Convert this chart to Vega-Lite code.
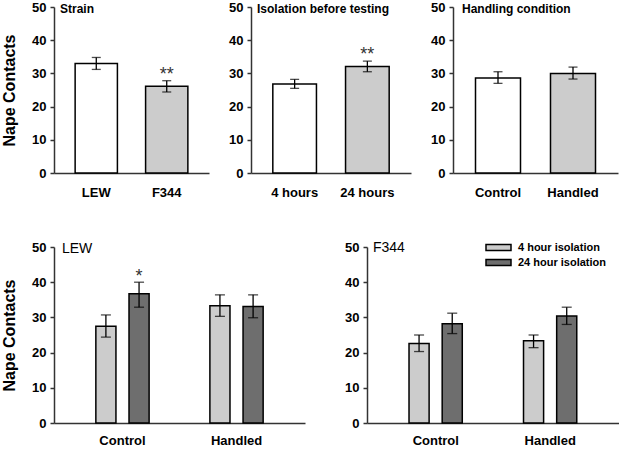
{
  "$schema": "https://vega.github.io/schema/vega-lite/v6.json",
  "autosize": {"type": "pad"},
  "padding": {"left": 1, "top": 1, "right": 0, "bottom": 0},
  "background": "white",
  "config": {
    "font": "Liberation Sans",
    "view": {"stroke": null},
    "axis": {"grid": false, "domainColor": "#333333", "domainWidth": 1.5, "tickColor": "#333333", "tickWidth": 1.5, "labelColor": "black", "labelFontWeight": "bold", "labelFontSize": 13, "titleColor": "black", "labelOverlap": false},
    "axisY": {"tickSize": 4, "labelPadding": 4, "titleFontSize": 16, "titleFontWeight": "bold", "titlePadding": 14, "tickCount": 10},
    "axisX": {"ticks": false, "labelAngle": 0, "labelPadding": 11},
    "title": {"anchor": "start", "frame": "group", "baseline": "middle", "offset": -15, "fontSize": 12, "fontWeight": "bold", "color": "black"}
  },
  "datasets": {
    "strain": [
      {"group": "LEW", "mean": 33.0, "lo": 31.2, "hi": 34.8},
      {"group": "F344", "mean": 26.1, "lo": 24.4, "hi": 27.8}
    ],
    "iso": [
      {"group": "4 hours", "mean": 26.8, "lo": 25.5, "hi": 28.2},
      {"group": "24 hours", "mean": 32.1, "lo": 30.5, "hi": 33.7}
    ],
    "hand": [
      {"group": "Control", "mean": 28.6, "lo": 27.0, "hi": 30.5},
      {"group": "Handled", "mean": 30.0, "lo": 28.3, "hi": 31.9}
    ],
    "lew": [
      {"group": "Control", "iso": "4 hour isolation", "mean": 27.5, "lo": 24.4, "hi": 30.7},
      {"group": "Control", "iso": "24 hour isolation", "mean": 36.7, "lo": 32.9, "hi": 40.0},
      {"group": "Handled", "iso": "4 hour isolation", "mean": 33.3, "lo": 30.3, "hi": 36.4},
      {"group": "Handled", "iso": "24 hour isolation", "mean": 33.1, "lo": 29.9, "hi": 36.4}
    ],
    "f344": [
      {"group": "Control", "iso": "4 hour isolation", "mean": 22.6, "lo": 20.3, "hi": 25.0},
      {"group": "Control", "iso": "24 hour isolation", "mean": 28.2, "lo": 25.4, "hi": 31.2},
      {"group": "Handled", "iso": "4 hour isolation", "mean": 23.4, "lo": 21.4, "hi": 25.0},
      {"group": "Handled", "iso": "24 hour isolation", "mean": 30.4, "lo": 28.0, "hi": 32.9}
    ],
    "starsStrain": [{"group": "F344", "y": 30.7, "star": "**"}],
    "starsIso": [{"group": "24 hours", "y": 36.8, "star": "**"}],
    "starsLew": [{"group": "Control", "iso": "24 hour isolation", "y": 42.7, "star": "*"}]
  },
  "spacing": 41,
  "resolve": {"scale": {"fill": "independent"}, "legend": {"fill": "independent"}},
  "vconcat": [
    {
      "bounds": "flush",
      "spacing": 42,
      "resolve": {"scale": {"fill": "independent"}, "legend": {"fill": "independent"}},
      "hconcat": [
        {
          "width": 155, "height": 166,
          "title": {"text": "Strain", "dx": 6},
          "data": {"name": "strain"},
          "encoding": {
            "x": {"field": "group", "type": "nominal", "sort": null, "scale": {"paddingInner": 0.4, "paddingOuter": 0.3}, "axis": {"title": null, "labelPadding": 13}}
          },
          "layer": [
            {"mark": {"type": "bar", "stroke": "black", "strokeWidth": 1.5},
             "encoding": {
               "y": {"field": "mean", "type": "quantitative", "scale": {"domain": [0, 50], "nice": false}, "axis": {"title": "Nape Contacts", "values": [0, 10, 20, 30, 40, 50], "tickCount": 10}},
               "fill": {"field": "group", "type": "nominal", "sort": null, "scale": {"range": ["#ffffff", "#cccccc"]}, "legend": null}
             }},
            {"mark": {"type": "rule", "color": "black", "strokeWidth": 1.3},
             "encoding": {"y": {"field": "lo", "type": "quantitative", "axis": {"title": "Nape Contacts", "values": [0, 10, 20, 30, 40, 50], "tickCount": 10}}, "y2": {"field": "hi"}}},
            {"mark": {"type": "tick", "color": "black", "thickness": 1.3, "size": 9},
             "encoding": {"y": {"field": "lo", "type": "quantitative", "axis": {"title": "Nape Contacts", "values": [0, 10, 20, 30, 40, 50], "tickCount": 10}}}},
            {"mark": {"type": "tick", "color": "black", "thickness": 1.3, "size": 9},
             "encoding": {"y": {"field": "hi", "type": "quantitative", "axis": {"title": "Nape Contacts", "values": [0, 10, 20, 30, 40, 50], "tickCount": 10}}}},
            {"data": {"name": "starsStrain"},
             "mark": {"type": "text", "fontSize": 18, "color": "#333333", "baseline": "middle", "dy": 4},
             "encoding": {"y": {"field": "y", "type": "quantitative", "axis": {"title": "Nape Contacts", "values": [0, 10, 20, 30, 40, 50], "tickCount": 10}}, "text": {"field": "star"}}}
          ]
        },
        {
          "width": 160, "height": 166,
          "title": {"text": "Isolation before testing", "dx": 6},
          "data": {"name": "iso"},
          "encoding": {
            "x": {"field": "group", "type": "nominal", "sort": null, "scale": {"paddingInner": 0.4, "paddingOuter": 0.3}, "axis": {"title": null, "labelPadding": 13}}
          },
          "layer": [
            {"mark": {"type": "bar", "stroke": "black", "strokeWidth": 1.5},
             "encoding": {
               "y": {"field": "mean", "type": "quantitative", "scale": {"domain": [0, 50], "nice": false}, "axis": {"title": null, "values": [0, 10, 20, 30, 40, 50], "tickCount": 10}},
               "fill": {"field": "group", "type": "nominal", "sort": null, "scale": {"range": ["#ffffff", "#cccccc"]}, "legend": null}
             }},
            {"mark": {"type": "rule", "color": "black", "strokeWidth": 1.3},
             "encoding": {"y": {"field": "lo", "type": "quantitative", "axis": {"title": null, "values": [0, 10, 20, 30, 40, 50], "tickCount": 10}}, "y2": {"field": "hi"}}},
            {"mark": {"type": "tick", "color": "black", "thickness": 1.3, "size": 9},
             "encoding": {"y": {"field": "lo", "type": "quantitative", "axis": {"title": null, "values": [0, 10, 20, 30, 40, 50], "tickCount": 10}}}},
            {"mark": {"type": "tick", "color": "black", "thickness": 1.3, "size": 9},
             "encoding": {"y": {"field": "hi", "type": "quantitative", "axis": {"title": null, "values": [0, 10, 20, 30, 40, 50], "tickCount": 10}}}},
            {"data": {"name": "starsIso"},
             "mark": {"type": "text", "fontSize": 18, "color": "#333333", "baseline": "middle", "dy": 4},
             "encoding": {"y": {"field": "y", "type": "quantitative", "axis": {"title": null, "values": [0, 10, 20, 30, 40, 50], "tickCount": 10}}, "text": {"field": "star"}}}
          ]
        },
        {
          "width": 165, "height": 166,
          "title": {"text": "Handling condition", "dx": 9},
          "data": {"name": "hand"},
          "encoding": {
            "x": {"field": "group", "type": "nominal", "sort": null, "scale": {"paddingInner": 0.4, "paddingOuter": 0.3}, "axis": {"title": null, "labelPadding": 13}}
          },
          "layer": [
            {"mark": {"type": "bar", "stroke": "black", "strokeWidth": 1.5},
             "encoding": {
               "y": {"field": "mean", "type": "quantitative", "scale": {"domain": [0, 50], "nice": false}, "axis": {"title": null, "values": [0, 10, 20, 30, 40, 50], "tickCount": 10}},
               "fill": {"field": "group", "type": "nominal", "sort": null, "scale": {"range": ["#ffffff", "#cccccc"]}, "legend": null}
             }},
            {"mark": {"type": "rule", "color": "black", "strokeWidth": 1.3},
             "encoding": {"y": {"field": "lo", "type": "quantitative", "axis": {"title": null, "values": [0, 10, 20, 30, 40, 50], "tickCount": 10}}, "y2": {"field": "hi"}}},
            {"mark": {"type": "tick", "color": "black", "thickness": 1.3, "size": 9},
             "encoding": {"y": {"field": "lo", "type": "quantitative", "axis": {"title": null, "values": [0, 10, 20, 30, 40, 50], "tickCount": 10}}}},
            {"mark": {"type": "tick", "color": "black", "thickness": 1.3, "size": 9},
             "encoding": {"y": {"field": "hi", "type": "quantitative", "axis": {"title": null, "values": [0, 10, 20, 30, 40, 50], "tickCount": 10}}}}
          ]
        }
      ]
    },
    {
      "bounds": "flush",
      "spacing": 62,
      "resolve": {"scale": {"fill": "independent"}, "legend": {"fill": "independent"}},
      "hconcat": [
        {
          "width": 251, "height": 176,
          "title": {"text": "LEW", "dx": 8, "fontWeight": "normal", "fontSize": 14},
          "data": {"name": "lew"},
          "encoding": {
            "x": {"field": "group", "type": "nominal", "sort": null, "scale": {"paddingInner": 0.533, "paddingOuter": 0.367}, "axis": {"title": null}},
            "xOffset": {"field": "iso", "type": "nominal", "sort": null, "scale": {"paddingInner": 0.394, "paddingOuter": 0}}
          },
          "layer": [
            {"mark": {"type": "bar", "stroke": "black", "strokeWidth": 1.5},
             "encoding": {
               "y": {"field": "mean", "type": "quantitative", "scale": {"domain": [0, 50], "nice": false}, "axis": {"title": "Nape Contacts", "values": [0, 10, 20, 30, 40, 50], "tickCount": 10}},
               "fill": {"field": "iso", "type": "nominal", "sort": null, "scale": {"range": ["#cccccc", "#6e6e6e"]}, "legend": null}
             }},
            {"mark": {"type": "rule", "color": "black", "strokeWidth": 1.3},
             "encoding": {"y": {"field": "lo", "type": "quantitative", "axis": {"title": "Nape Contacts", "values": [0, 10, 20, 30, 40, 50], "tickCount": 10}}, "y2": {"field": "hi"}}},
            {"mark": {"type": "tick", "color": "black", "thickness": 1.3, "size": 10},
             "encoding": {"y": {"field": "lo", "type": "quantitative", "axis": {"title": "Nape Contacts", "values": [0, 10, 20, 30, 40, 50], "tickCount": 10}}}},
            {"mark": {"type": "tick", "color": "black", "thickness": 1.3, "size": 10},
             "encoding": {"y": {"field": "hi", "type": "quantitative", "axis": {"title": "Nape Contacts", "values": [0, 10, 20, 30, 40, 50], "tickCount": 10}}}},
            {"data": {"name": "starsLew"},
             "mark": {"type": "text", "fontSize": 18, "color": "#333333", "baseline": "middle", "dy": 4},
             "encoding": {"y": {"field": "y", "type": "quantitative", "axis": {"title": "Nape Contacts", "values": [0, 10, 20, 30, 40, 50], "tickCount": 10}}, "text": {"field": "star"}}}
          ]
        },
        {
          "width": 252, "height": 176,
          "title": {"text": "F344", "dx": 6, "fontWeight": "normal", "fontSize": 14},
          "data": {"name": "f344"},
          "encoding": {
            "x": {"field": "group", "type": "nominal", "sort": null, "scale": {"paddingInner": 0.533, "paddingOuter": 0.367}, "axis": {"title": null}},
            "xOffset": {"field": "iso", "type": "nominal", "sort": null, "scale": {"paddingInner": 0.394, "paddingOuter": 0}}
          },
          "layer": [
            {"mark": {"type": "bar", "stroke": "black", "strokeWidth": 1.5},
             "encoding": {
               "y": {"field": "mean", "type": "quantitative", "scale": {"domain": [0, 50], "nice": false}, "axis": {"title": null, "values": [0, 10, 20, 30, 40, 50], "tickCount": 10}},
               "fill": {"field": "iso", "type": "nominal", "sort": null, "scale": {"range": ["#cccccc", "#6e6e6e"]},
                 "legend": {"title": null, "orient": "none", "legendX": 118, "legendY": -7, "padding": 0,
                   "symbolType": "M-1,-0.24H1V0.24H-1Z", "symbolSize": 625, "symbolStrokeColor": "black", "symbolStrokeWidth": 1.5,
                   "symbolOpacity": 1, "clipHeight": 15, "rowPadding": 0, "labelOffset": 6,
                   "labelFontSize": 11, "labelFontWeight": "bold", "labelColor": "black"}}
             }},
            {"mark": {"type": "rule", "color": "black", "strokeWidth": 1.3},
             "encoding": {"y": {"field": "lo", "type": "quantitative", "axis": {"title": null, "values": [0, 10, 20, 30, 40, 50], "tickCount": 10}}, "y2": {"field": "hi"}}},
            {"mark": {"type": "tick", "color": "black", "thickness": 1.3, "size": 10},
             "encoding": {"y": {"field": "lo", "type": "quantitative", "axis": {"title": null, "values": [0, 10, 20, 30, 40, 50], "tickCount": 10}}}},
            {"mark": {"type": "tick", "color": "black", "thickness": 1.3, "size": 10},
             "encoding": {"y": {"field": "hi", "type": "quantitative", "axis": {"title": null, "values": [0, 10, 20, 30, 40, 50], "tickCount": 10}}}}
          ]
        }
      ]
    }
  ]
}
